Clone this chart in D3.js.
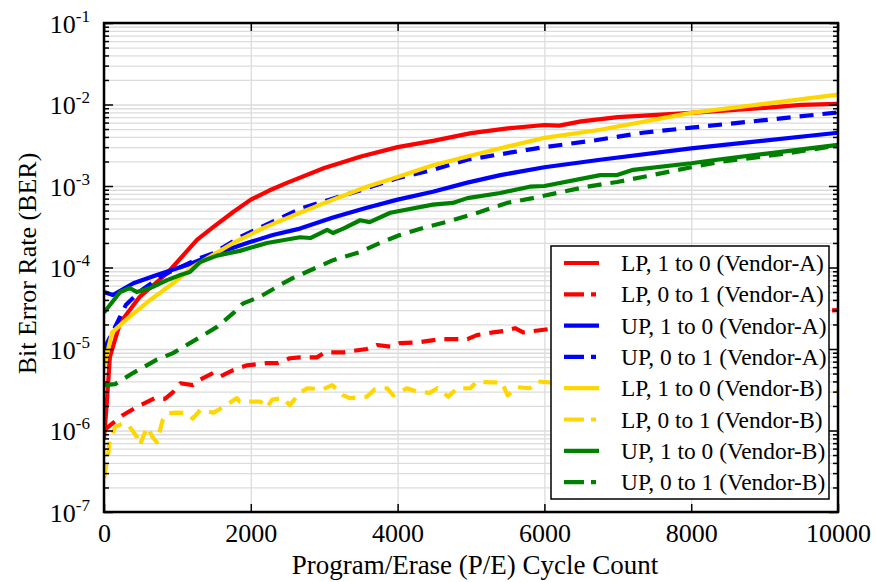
<!DOCTYPE html>
<html>
<head>
<meta charset="utf-8">
<script src="https://cdn.jsdelivr.net/npm/d3@7"></script>
<style>
  html, body { margin: 0; padding: 0; background: #fff; }
  svg, svg text { font-family: "Liberation Serif", "Times New Roman", serif !important; }
</style>
</head>
<body>
<svg id="chart" width="876" height="582"></svg>
<script>
// ---------------- data ----------------
const xTickValues = [0, 2000, 4000, 6000, 8000, 10000];
const yExponents = [-7, -6, -5, -4, -3, -2, -1];
const xLabel = "Program/Erase (P/E) Cycle Count";
const yLabel = "Bit Error Rate (BER)";

const seriesNames = [
  "LP, 1 to 0 (Vendor-A)", "LP, 0 to 1 (Vendor-A)",
  "UP, 1 to 0 (Vendor-A)", "UP, 0 to 1 (Vendor-A)",
  "LP, 1 to 0 (Vendor-B)", "LP, 0 to 1 (Vendor-B)",
  "UP, 1 to 0 (Vendor-B)", "UP, 0 to 1 (Vendor-B)"
];
const seriesColors = ["#ff0000", "#ff0000", "#0000ff", "#0000ff", "#ffd700", "#ffd700", "#008000", "#008000"];
const seriesDashed = [false, true, false, true, false, true, false, true];

// [P/E cycles, BER]
const lpA10 = [[0,8e-7],[40,2.3e-6],[80,8e-6],[220,2.1e-5],[490,4.4e-5],[860,8.5e-5],[1270,2.2e-4],[1500,3.2e-4],[1760,4.8e-4],[2000,6.8e-4],[2250,8.8e-4],[2500,1.1e-3],[3000,1.66e-3],[3500,2.3e-3],[4000,3.0e-3],[4500,3.6e-3],[5000,4.45e-3],[5500,5.1e-3],[6000,5.6e-3],[6200,5.5e-3],[6500,6.2e-3],[7000,7.0e-3],[8000,7.9e-3],[9000,9.1e-3],[9500,9.9e-3],[10000,1.02e-2]];
const lpA01 = [[0,1.0e-6],[120,1.23e-6],[260,1.55e-6],[450,1.95e-6],[690,2.5e-6],[830,2.45e-6],[940,2.95e-6],[1040,3.8e-6],[1210,3.6e-6],[1310,4.2e-6],[1490,5.1e-6],[1580,4.6e-6],[1760,5.5e-6],[1950,6.3e-6],[2220,6.7e-6],[2360,6.7e-6],[2530,7.7e-6],[2670,7.9e-6],[2900,7.9e-6],[3010,9.1e-6],[3260,9.1e-6],[3580,1.0e-5],[3720,1.12e-5],[3900,1.07e-5],[4030,1.18e-5],[4260,1.2e-5],[4580,1.32e-5],[4950,1.32e-5],[5080,1.48e-5],[5300,1.6e-5],[5440,1.66e-5],[5600,1.8e-5],[5710,1.6e-5],[5940,1.7e-5],[6050,1.75e-5],[6500,1.9e-5],[7000,2.1e-5],[7500,2.3e-5],[8000,2.4e-5],[8500,2.6e-5],[9000,2.7e-5],[9500,2.9e-5],[10000,3.0e-5]];
const upA10 = [[0,5.0e-5],[120,4.6e-5],[400,6.4e-5],[720,8.1e-5],[1130,1.07e-4],[1540,1.5e-4],[1990,2.05e-4],[2300,2.5e-4],[2670,3.0e-4],[3120,4.1e-4],[3580,5.4e-4],[4000,6.8e-4],[4480,8.5e-4],[4950,1.1e-3],[5400,1.36e-3],[6000,1.7e-3],[6760,2.1e-3],[8000,2.9e-3],[10000,4.5e-3]];
const upA01 = [[0,1.0e-5],[100,1.5e-5],[300,3.5e-5],[500,5.2e-5],[800,8e-5],[1300,1.3e-4],[1490,1.5e-4],[1850,2.35e-4],[2490,4.4e-4],[2710,5.4e-4],[3500,8.9e-4],[4000,1.25e-3],[4480,1.58e-3],[4950,2.1e-3],[5570,2.6e-3],[6000,3.0e-3],[6660,3.6e-3],[7340,4.5e-3],[8000,5.2e-3],[8760,6.1e-3],[10000,8.0e-3]];
const lpB10 = [[0,6e-6],[110,1.6e-5],[350,2.5e-5],[630,4.0e-5],[940,6.4e-5],[1210,1.02e-4],[1760,2.0e-4],[2220,3.2e-4],[2670,4.7e-4],[3120,6.8e-4],[3580,9.8e-4],[4000,1.29e-3],[4480,1.8e-3],[4950,2.3e-3],[5400,2.9e-3],[6000,3.9e-3],[6760,4.9e-3],[8000,7.9e-3],[10000,1.32e-2]];
const lpB01 = [[0,2.6e-7],[50,4.7e-7],[80,7.6e-7],[150,1.1e-6],[260,1.23e-6],[330,1.17e-6],[450,8.3e-7],[490,6.6e-7],[530,8.3e-7],[590,1.1e-6],[670,8.1e-7],[720,7.2e-7],[800,1.35e-6],[860,1.63e-6],[990,1.66e-6],[1130,1.63e-6],[1210,1.4e-6],[1310,1.78e-6],[1490,1.66e-6],[1610,1.9e-6],[1810,2.5e-6],[1850,2.26e-6],[2130,2.26e-6],[2220,1.9e-6],[2290,2.4e-6],[2440,2.5e-6],[2530,2.05e-6],[2670,2.9e-6],[2770,3.3e-6],[2980,3.2e-6],[3110,3.6e-6],[3260,2.7e-6],[3350,2.5e-6],[3580,2.6e-6],[3690,3.2e-6],[3860,3.3e-6],[3940,2.7e-6],[4130,3.3e-6],[4260,3.0e-6],[4440,2.9e-6],[4540,3.3e-6],[4690,2.6e-6],[4810,3.3e-6],[4990,3.3e-6],[5080,4.0e-6],[5260,3.9e-6],[5420,3.9e-6],[5500,2.7e-6],[5630,3.4e-6],[5800,3.3e-6],[5910,4.0e-6],[6500,3.6e-6],[7000,3.4e-6],[7500,3.8e-6],[8000,3.5e-6],[8500,3.7e-6],[9000,3.4e-6],[9500,3.6e-6],[9900,3.3e-6],[10000,3.0e-6]];
const upB10 = [[0,2.8e-5],[220,5.0e-5],[350,5.6e-5],[450,5.0e-5],[630,5.6e-5],[860,7.0e-5],[1040,8.1e-5],[1170,8.8e-5],[1310,1.17e-4],[1540,1.4e-4],[1850,1.6e-4],[2220,2.0e-4],[2670,2.35e-4],[2810,2.3e-4],[3040,2.9e-4],[3120,2.65e-4],[3260,3.0e-4],[3490,3.8e-4],[3620,3.6e-4],[3900,4.7e-4],[4480,5.9e-4],[4750,6.2e-4],[4950,7.1e-4],[5400,8.2e-4],[5800,9.8e-4],[6000,1.0e-3],[6760,1.36e-3],[6990,1.36e-3],[7210,1.58e-3],[8000,1.9e-3],[8350,2.1e-3],[9030,2.5e-3],[10000,3.2e-3]];
const upB01 = [[0,3.6e-6],[150,3.7e-6],[400,5.1e-6],[720,7.4e-6],[940,8.9e-6],[1170,1.18e-5],[1310,1.4e-5],[1540,1.87e-5],[1760,2.75e-5],[1890,3.6e-5],[2130,4.4e-5],[2400,6.1e-5],[2570,7.4e-5],[3120,1.23e-4],[3490,1.55e-4],[3760,2.0e-4],[4030,2.5e-4],[4400,3.15e-4],[4750,3.8e-4],[5120,4.8e-4],[5490,6.2e-4],[5840,7.1e-4],[6170,8.2e-4],[6580,9.8e-4],[6990,1.12e-3],[7340,1.29e-3],[7670,1.48e-3],[8000,1.7e-3],[8350,1.95e-3],[8800,2.2e-3],[9300,2.5e-3],[9850,3.0e-3],[10000,3.1e-3]];

const seriesData = [lpA10, lpA01, upA10, upA01, lpB10, lpB01, upB10, upB01];

// ---------------- layout ----------------
const FONT = "Liberation Serif";
const svg = d3.select("#chart");
const L = 104, R = 838, T = 23, B = 512;
const x = d3.scaleLinear().domain([0, 10000]).range([L, R]);
const y = d3.scaleLog().domain([1e-7, 1e-1]).range([B, T]);

const majorY = yExponents.map(e => Math.pow(10, e));
const minorY = [];
for (let e = -7; e < -1; e++) for (let m = 2; m <= 9; m++) minorY.push(m * Math.pow(10, e));

// grid
const gridColor = "#dcdcdc";
svg.append("g").attr("transform", `translate(0,${B})`)
  .call(d3.axisBottom(x).tickValues(xTickValues).tickSize(-(B - T)).tickFormat(""))
  .call(g => g.select(".domain").remove())
  .call(g => g.selectAll("line").attr("stroke", gridColor).attr("stroke-width", 1.3));
svg.append("g").attr("transform", `translate(${L},0)`)
  .call(d3.axisLeft(y).tickValues(majorY.concat(minorY)).tickSize(-(R - L)).tickFormat(""))
  .call(g => g.select(".domain").remove())
  .call(g => g.selectAll("line").attr("stroke", gridColor).attr("stroke-width", 1.3));

// lines
const line = d3.line().x(d => x(d[0])).y(d => y(d[1]));
svg.append("clipPath").attr("id", "clip").append("rect")
  .attr("x", L).attr("y", T).attr("width", R - L).attr("height", B - T);
const plot = svg.append("g").attr("clip-path", "url(#clip)");
seriesData.forEach((data, i) => {
  plot.append("path")
    .attr("d", line(data))
    .attr("fill", "none")
    .attr("stroke", seriesColors[i])
    .attr("stroke-width", 4.2)
    .attr("stroke-linejoin", "round")
    .attr("stroke-dasharray", seriesDashed[i] ? "14,9" : null);
});

// axes ticks (inward) on all four sides
function styleAxis(g) {
  g.select(".domain").remove();
  g.selectAll("line").attr("stroke", "#000").attr("stroke-width", 1.5);
}
svg.append("g").attr("transform", `translate(${L},0)`)
  .call(d3.axisLeft(y).tickValues(majorY).tickSize(-9).tickFormat("")).call(styleAxis);
svg.append("g").attr("transform", `translate(${L},0)`)
  .call(d3.axisLeft(y).tickValues(minorY).tickSize(-5).tickFormat("")).call(styleAxis);
svg.append("g").attr("transform", `translate(${R},0)`)
  .call(d3.axisRight(y).tickValues(majorY).tickSize(-9).tickFormat("")).call(styleAxis);
svg.append("g").attr("transform", `translate(${R},0)`)
  .call(d3.axisRight(y).tickValues(minorY).tickSize(-5).tickFormat("")).call(styleAxis);
svg.append("g").attr("transform", `translate(0,${B})`)
  .call(d3.axisBottom(x).tickValues(xTickValues).tickSize(-8).tickFormat("")).call(styleAxis);
svg.append("g").attr("transform", `translate(0,${T})`)
  .call(d3.axisTop(x).tickValues(xTickValues).tickSize(-8).tickFormat("")).call(styleAxis);

// frame
svg.append("rect").attr("x", L).attr("y", T).attr("width", R - L).attr("height", B - T)
  .attr("fill", "none").attr("stroke", "#000").attr("stroke-width", 2.5);

// x tick labels
const xLab = svg.append("g").attr("transform", `translate(0,${B})`)
  .call(d3.axisBottom(x).tickValues(xTickValues).tickSize(0).tickPadding(0).tickFormat(d3.format("d")));
xLab.attr("font-family", FONT).attr("font-size", 26);
xLab.select(".domain").remove();
xLab.selectAll("text").attr("font-family", FONT).attr("font-size", 26)
  .attr("fill", "#000").attr("dy", null).attr("y", 30);

// y tick labels with superscript
const yLab = svg.append("g").attr("transform", `translate(${L},0)`)
  .call(d3.axisLeft(y).tickValues(majorY).tickSize(0).tickPadding(14).tickFormat(""));
yLab.attr("font-family", FONT);
yLab.select(".domain").remove();
yLab.selectAll(".tick text").each(function(d) {
  const t = d3.select(this);
  t.text(null).attr("font-family", FONT).attr("fill", "#000")
    .attr("dy", null).attr("y", 9).attr("text-anchor", "end");
  t.append("tspan").attr("font-size", 26).text("10");
  t.append("tspan").attr("font-size", 17).attr("dy", -11).text(String(Math.round(Math.log10(d))));
});

// axis titles
svg.append("text").attr("x", (L + R) / 2 + 4).attr("y", 574).attr("text-anchor", "middle")
  .attr("font-family", FONT).attr("font-size", 27).text(xLabel);
svg.append("text").attr("transform", `translate(36,${(T + B) / 2 - 4}) rotate(-90)`)
  .attr("text-anchor", "middle").attr("font-family", FONT).attr("font-size", 26).text(yLabel);

// legend
const lg = svg.append("g");
const LX = 551, LY = 246, LW = 278, LH = 253;
lg.append("rect").attr("x", LX).attr("y", LY).attr("width", LW).attr("height", LH)
  .attr("fill", "#fff").attr("stroke", "#000").attr("stroke-width", 1.5);
seriesNames.forEach((name, i) => {
  const ry = LY + 17 + i * 31.3;
  lg.append("line").attr("x1", LX + 13).attr("x2", LX + 48).attr("y1", ry).attr("y2", ry)
    .attr("stroke", seriesColors[i]).attr("stroke-width", 4.2)
    .attr("stroke-dasharray", seriesDashed[i] ? "20,7,5,100" : null);
  lg.append("text").attr("x", LX + 70).attr("y", ry + 8).attr("font-family", FONT)
    .attr("font-size", 23.4).text(name);
});
</script>
</body>
</html>
